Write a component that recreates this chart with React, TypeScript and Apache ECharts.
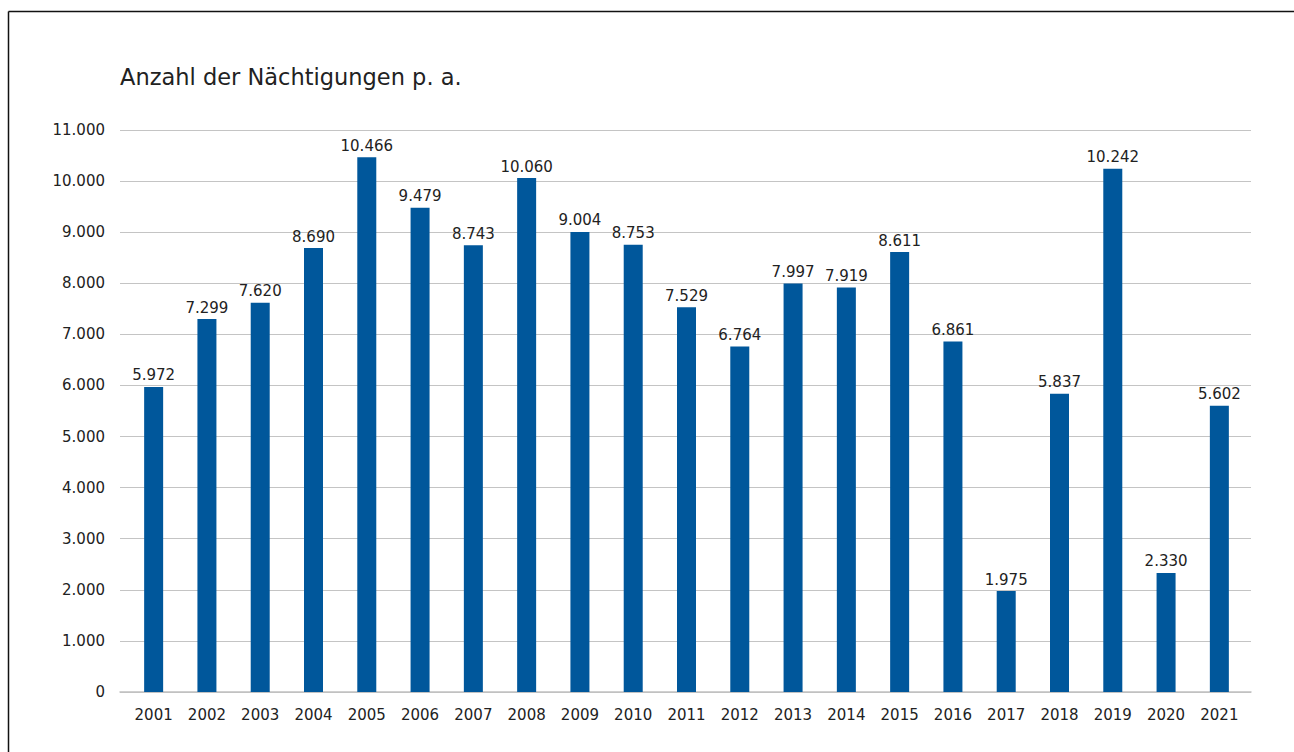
import React, { useEffect, useRef } from "react";
import * as echarts from "echarts";

const years = ["2001","2002","2003","2004","2005","2006","2007","2008","2009","2010","2011","2012","2013","2014","2015","2016","2017","2018","2019","2020","2021"];
const nights = [5972,7299,7620,8690,10466,9479,8743,10060,9004,8753,7529,6764,7997,7919,8611,6861,1975,5837,10242,2330,5602];
const title = "Anzahl der Nächtigungen p. a.";

const fmt = (v: number) => String(Math.round(v)).replace(/\B(?=(\d{3})+(?!\d))/g, ".");

export default function App() {
  const ref = useRef<HTMLDivElement>(null);
  useEffect(() => {
    const chart = echarts.init(ref.current!, null, { renderer: "svg" });
    const font = "'DejaVu Sans', sans-serif";
    chart.setOption({
      animation: false,
      backgroundColor: "#ffffff",
      textStyle: { fontFamily: font },
      graphic: [
        { type: "line", shape: { x1: 8.5, y1: 11.5, x2: 1294, y2: 11.5 }, style: { stroke: "#111", lineWidth: 1.5 } },
        { type: "line", shape: { x1: 8.5, y1: 11.5, x2: 8.5, y2: 752 }, style: { stroke: "#111", lineWidth: 1.5 } },
        { type: "text", left: 120, top: 65, style: { text: title, fontFamily: font, fontSize: 22.5, fill: "#222" } },
      ],
      grid: [
        { left: 127, right: 48, top: 130, bottom: 60, containLabel: false },
        { left: 120, right: 43, top: 130, bottom: 60, containLabel: false },
      ],
      xAxis: [
        {
          type: "category",
          gridIndex: 0,
          data: years,
          axisLine: { show: false },
          axisTick: { show: false },
          axisLabel: { color: "#222", fontSize: 15, margin: 15, fontFamily: font },
        },
        {
          type: "category",
          gridIndex: 1,
          data: years,
          axisLine: { show: true, lineStyle: { color: "#c0c0c0", width: 1.5 } },
          axisTick: { show: false },
          axisLabel: { show: false },
        },
      ],
      yAxis: [
        {
          type: "value",
          gridIndex: 0,
          min: 0,
          max: 11000,
          interval: 1000,
          axisLine: { show: false },
          axisTick: { show: false },
          splitLine: { show: false },
          axisLabel: { color: "#222", fontSize: 15, margin: 22, fontFamily: font, formatter: (v: number) => fmt(v) },
        },
        {
          type: "value",
          gridIndex: 1,
          min: 0,
          max: 11000,
          interval: 1000,
          axisLine: { show: false },
          axisTick: { show: false },
          axisLabel: { show: false },
          splitLine: { lineStyle: { color: "#c4c4c4", width: 1 } },
        },
      ],
      series: [
        {
          type: "bar",
          xAxisIndex: 0,
          yAxisIndex: 0,
          z: 3,
          data: nights,
          barWidth: 19,
          itemStyle: { color: "#00579b" },
          label: {
            show: true,
            position: "top",
            distance: 4,
            color: "#222",
            fontSize: 15,
            fontFamily: font,
            formatter: (p: any) => fmt(p.value),
          },
        },
      ],
    });
    return () => chart.dispose();
  }, []);
  return <div ref={ref} style={{ position: "fixed", left: 0, top: 0, width: 1294, height: 752 }} />;
}
